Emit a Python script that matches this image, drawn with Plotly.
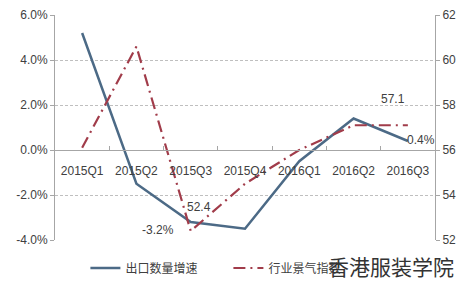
import plotly.graph_objects as go

categories = ["2015Q1", "2015Q2", "2015Q3", "2015Q4", "2016Q1", "2016Q2", "2016Q3"]
export_growth = [5.2, -1.5, -3.2, -3.5, -0.5, 1.4, 0.4]          # %
industry_index = [56.1, 60.6, 52.4, 54.5, 56.0, 57.1, 57.1]
left_ticks = [-4, -2, 0, 2, 4, 6]
left_ticktext = ["-4.0%", "-2.0%", "0.0%", "2.0%", "4.0%", "6.0%"]
right_ticks = [52, 54, 56, 58, 60, 62]

blue = "#4C6A86"
red = "#A13C4A"
txt = "#404040"
axc = "#A6A6A6"

fig = go.Figure()
fig.add_trace(go.Scatter(
    x=categories, y=export_growth, name="出口数量增速", mode="lines",
    line=dict(color=blue, width=2.5), yaxis="y"))
fig.add_trace(go.Scatter(
    x=categories, y=industry_index, name="行业景气指数", mode="lines",
    line=dict(color=red, width=2.2, dash="12px,5px,2px,5px"), yaxis="y2"))

# data labels (attached to data points, with pixel offsets)
fig.add_annotation(x=categories[2], y=export_growth[2], yref="y", text="-3.2%",
                   xshift=-33, yshift=-8, showarrow=False, font=dict(size=12, color=txt))
fig.add_annotation(x=categories[6], y=export_growth[6], yref="y", text="0.4%",
                   xshift=13, yshift=1, showarrow=False, font=dict(size=12, color=txt))
fig.add_annotation(x=categories[2], y=industry_index[2], yref="y2", text="52.4",
                   xshift=8, yshift=24, showarrow=False, font=dict(size=12, color=txt))
fig.add_annotation(x=categories[6], y=industry_index[6], yref="y2", text="57.1",
                   xshift=-15, yshift=26, showarrow=False, font=dict(size=12, color=txt))

font_fam = "Liberation Sans, Noto Sans CJK SC, sans-serif"
fig.update_layout(
    width=470, height=281,
    margin=dict(l=55, r=35, t=15, b=41, autoexpand=False),
    paper_bgcolor="white", plot_bgcolor="white",
    font=dict(family=font_fam, size=12, color=txt),
    showlegend=True,
    legend=dict(orientation="h", x=0.08, y=-0.06, xanchor="left", yanchor="top",
                font=dict(size=12, color=txt), bgcolor="rgba(0,0,0,0)",
                itemwidth=30, entrywidth=98),
    xaxis=dict(type="category", range=[-0.5, 6.5], anchor="free", position=0.4,
               showline=True, linecolor=axc, linewidth=1,
               ticks="inside", ticklen=4, tickcolor=axc, tickson="boundaries",
               ticklabelstandoff=10,
               showgrid=False, tickfont=dict(size=12, color=txt)),
    yaxis=dict(range=[-4, 6], tickvals=left_ticks, ticktext=left_ticktext,
               showline=True, linecolor=axc, ticks="outside", ticklen=4, tickcolor=axc,
               showgrid=True, gridcolor="#BFBFBF", griddash="3px,2px", zeroline=False,
               tickfont=dict(size=12, color=txt)),
    yaxis2=dict(range=[52, 62], tickvals=right_ticks, overlaying="y", side="right",
                showline=True, linecolor=axc, ticks="outside", ticklen=4, tickcolor=axc,
                showgrid=False, zeroline=False, tickfont=dict(size=12, color=txt)),
)
fig.add_annotation(text="香港服装学院", xref="paper", yref="paper", x=1.055, y=-0.04,
                   xanchor="right", yanchor="top", showarrow=False,
                   font=dict(size=21, color="#333333", family="Noto Sans CJK SC"))
fig.write_html("out.html")
